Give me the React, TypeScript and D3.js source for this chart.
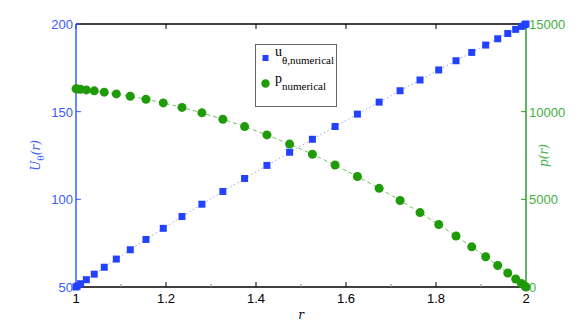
import { useRef, useEffect } from 'react';
import * as d3 from 'd3';

const R = [
  1.0, 1.00257, 1.01023, 1.02293, 1.04052, 1.06282, 1.08962, 1.12062, 1.15552, 1.19395,
  1.23552, 1.2798, 1.32635, 1.37467, 1.42428, 1.47467, 1.52533, 1.57572, 1.62533, 1.67365,
  1.7202, 1.76448, 1.80605, 1.84448, 1.87938, 1.91038, 1.93718, 1.95948, 1.97707, 1.98977,
  1.99743, 2.0,
];

const U_THETA = [
  50.0, 50.47, 51.87, 54.17, 57.32, 61.27, 65.94, 71.25, 77.12, 83.46,
  90.19, 97.22, 104.48, 111.88, 119.36, 126.84, 134.25, 141.53, 148.6, 155.43,
  161.93, 168.07, 173.79, 179.05, 183.79, 187.98, 191.59, 194.58, 196.94, 198.64,
  199.66, 200.0,
];

const P = [
  11301, 11295, 11275, 11240, 11187, 11112, 11011, 10879, 10710, 10499,
  10241, 9932, 9569, 9150, 8676, 8149, 7573, 6955, 6303, 5626,
  4935, 4243, 3563, 2907, 2291, 1725, 1224, 797, 454, 204,
  51, 0,
];

const X_TICKS = [1, 1.2, 1.4, 1.6, 1.8, 2];
const X_MINOR = [1.1, 1.3, 1.5, 1.7, 1.9];
const U_TICKS = [50, 100, 150, 200];
const P_TICKS = [0, 5000, 10000, 15000];

const BLUE = '#2342ff';
const BLUE_AXIS = '#3b5bff';
const GREEN = '#1f9b0a';
const GREEN_AXIS = '#2c9a2c';
const GREEN_TEXT = '#3fb23f';

export default function App() {
  const svgRef = useRef<SVGSVGElement>(null);
  const width = 581;
  const height = 323;

  useEffect(() => {
    const svg = d3.select(svgRef.current);
    svg.selectAll('*').remove();

    const left = 76, right = 526, top = 24, bottom = 287;
    const x = d3.scaleLinear().domain([1, 2]).range([left, right]);
    const yu = d3.scaleLinear().domain([50, 200]).range([bottom, top]);
    const yp = d3.scaleLinear().domain([0, 15000]).range([bottom, top]);
    const font = '"Liberation Sans", Arial, sans-serif';

    svg.append('rect').attr('width', width).attr('height', height).attr('fill', '#fff');

    // box (top / bottom)
    svg.append('line').attr('x1', left).attr('x2', right).attr('y1', top).attr('y2', top)
      .attr('stroke', '#000').attr('stroke-width', 1.5);
    svg.append('line').attr('x1', left).attr('x2', right).attr('y1', bottom).attr('y2', bottom)
      .attr('stroke', '#000').attr('stroke-width', 1.5);

    // x ticks
    X_TICKS.forEach((t) => {
      svg.append('line').attr('x1', x(t)).attr('x2', x(t)).attr('y1', bottom).attr('y2', bottom - 5)
        .attr('stroke', '#000');
      svg.append('line').attr('x1', x(t)).attr('x2', x(t)).attr('y1', top).attr('y2', top + 5)
        .attr('stroke', '#000');
      svg.append('text').attr('x', x(t)).attr('y', 303).attr('text-anchor', 'middle')
        .attr('font-family', font).attr('font-size', 13).attr('fill', '#000')
        .text(d3.format('~g')(t));
    });
    X_MINOR.forEach((t) => {
      svg.append('line').attr('x1', x(t)).attr('x2', x(t)).attr('y1', bottom).attr('y2', bottom - 3)
        .attr('stroke', '#888');
    });
    svg.append('text').attr('x', x(1.5)).attr('y', 319).attr('text-anchor', 'middle')
      .attr('font-family', 'DejaVu Serif, serif').attr('font-style', 'italic')
      .attr('font-size', 12).text('r');

    // left axis
    svg.append('line').attr('x1', left).attr('x2', left).attr('y1', top).attr('y2', bottom)
      .attr('stroke', BLUE_AXIS).attr('stroke-width', 1.5);
    U_TICKS.forEach((t) => {
      svg.append('line').attr('x1', left).attr('x2', left + 5).attr('y1', yu(t)).attr('y2', yu(t))
        .attr('stroke', BLUE_AXIS);
      svg.append('text').attr('x', left - 3).attr('y', yu(t) + 5).attr('text-anchor', 'end')
        .attr('font-family', font).attr('font-size', 13).attr('fill', BLUE_AXIS).text(t);
    });
    const ul = svg.append('text').attr('transform', `translate(40,${(top + bottom) / 2}) rotate(-90)`)
      .attr('text-anchor', 'middle').attr('fill', BLUE_AXIS)
      .attr('font-family', 'DejaVu Serif, serif').attr('font-style', 'italic').attr('font-size', 12);
    ul.append('tspan').text('U');
    ul.append('tspan').attr('font-size', 9).attr('font-style', 'normal').attr('dy', 4).text('θ');
    ul.append('tspan').attr('dy', -4).text('(r)');

    // right axis
    svg.append('line').attr('x1', right).attr('x2', right).attr('y1', top).attr('y2', bottom)
      .attr('stroke', GREEN_AXIS).attr('stroke-width', 1.5);
    P_TICKS.forEach((t) => {
      svg.append('line').attr('x1', right).attr('x2', right - 5).attr('y1', yp(t)).attr('y2', yp(t))
        .attr('stroke', GREEN_AXIS);
      svg.append('text').attr('x', right + 3).attr('y', yp(t) + 5).attr('text-anchor', 'start')
        .attr('font-family', font).attr('font-size', 13).attr('fill', GREEN_TEXT).text(t);
    });
    svg.append('text').attr('transform', `translate(548,${(top + bottom) / 2}) rotate(-90)`)
      .attr('text-anchor', 'middle').attr('fill', GREEN_TEXT)
      .attr('font-family', 'DejaVu Serif, serif').attr('font-style', 'italic').attr('font-size', 12)
      .text('p(r)');

    // u_theta series
    const uLine = d3.line<number>().x((_, i) => x(R[i])).y((d) => yu(d));
    svg.append('path').attr('d', uLine(U_THETA)).attr('fill', 'none')
      .attr('stroke', '#95a4ff').attr('stroke-width', 1).attr('stroke-dasharray', '1.5,2.5');
    svg.append('g').selectAll('rect').data(U_THETA).join('rect')
      .attr('x', (_, i) => x(R[i]) - 3.5).attr('y', (d) => yu(d) - 3.5)
      .attr('width', 7).attr('height', 7).attr('fill', BLUE);

    // pressure series
    const pLine = d3.line<number>().x((_, i) => x(R[i])).y((d) => yp(d));
    svg.append('path').attr('d', pLine(P)).attr('fill', 'none')
      .attr('stroke', '#6fc45f').attr('stroke-width', 1).attr('stroke-dasharray', '4,3');
    svg.append('g').selectAll('circle').data(P).join('circle')
      .attr('cx', (_, i) => x(R[i])).attr('cy', (d) => yp(d)).attr('r', 4.5).attr('fill', GREEN);

    // legend
    const lg = svg.append('g');
    lg.append('rect').attr('x', 255.5).attr('y', 44.5).attr('width', 81).attr('height', 62)
      .attr('fill', '#fff').attr('stroke', '#666');
    lg.append('rect').attr('x', 262.5).attr('y', 55).attr('width', 6).attr('height', 6).attr('fill', BLUE);
    lg.append('circle').attr('cx', 265.5).attr('cy', 83.5).attr('r', 4.2).attr('fill', GREEN);
    const serif = '"Liberation Serif", "Times New Roman", serif';
    const t1 = lg.append('text').attr('x', 275).attr('y', 56).attr('font-family', serif).attr('font-size', 14);
    t1.append('tspan').text('u');
    t1.append('tspan').attr('font-size', 11).attr('dy', 8).text('θ,numerical');
    const t2 = lg.append('text').attr('x', 275).attr('y', 83).attr('font-family', serif).attr('font-size', 14);
    t2.append('tspan').text('p');
    t2.append('tspan').attr('font-size', 11).attr('dy', 7).text('numerical');
  }, []);

  return (
    <div style={{ position: 'absolute', left: 0, top: 0 }}>
      <svg ref={svgRef} width={width} height={height} />
    </div>
  );
}
